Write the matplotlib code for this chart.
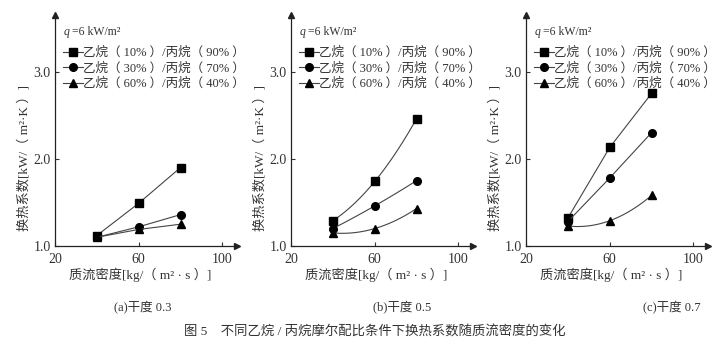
import numpy as np
import matplotlib
matplotlib.use('Agg')
import matplotlib.pyplot as plt

plt.rcParams['font.family'] = ['Liberation Serif', 'Noto Sans CJK SC']

# ── data ────────────────────────────────────────────────────────────────
mass_flux = [40, 60, 80]
series_labels = ['乙烷（ 10% ）/丙烷（ 90% ）',
                 '乙烷（ 30% ）/丙烷（ 70% ）',
                 '乙烷（ 60% ）/丙烷（ 40% ）']
markers = ['s', 'o', '^']

htc_a = [[1.12, 1.49, 1.90],
         [1.10, 1.22, 1.36],
         [1.10, 1.19, 1.25]]
htc_b = [[1.29, 1.74, 2.46],
         [1.20, 1.46, 1.75],
         [1.15, 1.20, 1.43]]
htc_c = [[1.32, 2.13, 2.75],
         [1.28, 1.78, 2.30],
         [1.23, 1.29, 1.58]]

panels = [('(a)干度 0.3', htc_a, [False, False, False]),
          ('(b)干度 0.5', htc_b, [True, True, True]),
          ('(c)干度 0.7', htc_c, [False, False, True])]

xticks = [20, 60, 100]
yticks = [1.0, 2.0, 3.0]

fig = plt.figure(figsize=(7.2, 3.45), dpi=100)
lefts = [55, 291, 526]
subs_x = [143, 402, 672]
txt_c = '#333333'

for left, sx, (sub, data, smooth) in zip(lefts, subs_x, panels):
    ax = fig.add_axes([left / 720, 1 - 246 / 345, 182 / 720, 231 / 345])
    x = np.array(mass_flux, dtype=float)
    for vals, mk, lab, sm in zip(data, markers, series_labels, smooth):
        if sm:
            coef = np.polyfit(x, vals, 2)
            xs = np.linspace(x[0], x[-1], 60)
            ax.plot(xs, np.polyval(coef, xs), color='#444444', lw=0.8)
        else:
            ax.plot(x, vals, color='#444444', lw=0.8)
        ax.plot(x, vals, linestyle='none', marker=mk, color='black', ms=5.5)
        ax.plot([], [], color='#444444', lw=0.8, marker=mk,
                markerfacecolor='black', markeredgecolor='black', ms=5.5, label=lab)

    ax.set_xlim(20, 107)
    ax.set_ylim(1.0, 3.65)
    ax.set_xticks(xticks)
    ax.set_yticks(yticks)
    ax.set_yticklabels([f'{v:.1f}' for v in yticks])
    ax.tick_params(direction='in', length=3, width=0.8, labelsize=10,
                   colors='#333333')
    ax.tick_params(axis='x', pad=5)
    ax.tick_params(axis='y', pad=3)
    for s in ['top', 'right']:
        ax.spines[s].set_visible(False)
    for s in ['left', 'bottom']:
        ax.spines[s].set_color('#222222')
        ax.spines[s].set_linewidth(0.9)
    ax.plot(1, 0, '>', color='#222222', ms=5, transform=ax.transAxes, clip_on=False)
    ax.plot(0, 1, '^', color='#222222', ms=5, transform=ax.transAxes, clip_on=False)

    ax.set_xlabel('质流密度[kg/（ m² · s ）]', fontsize=9.5, color=txt_c)
    ax.set_ylabel('换热系数[kW/（ m²·K ）]', fontsize=9.5, color=txt_c)
    ax.xaxis.set_label_coords(0.467, -0.095)
    ax.yaxis.set_label_coords(-0.135, 0.38)

    ax.text(0.05, 0.925, 'q', transform=ax.transAxes, fontsize=8.5,
            color=txt_c, va='center', style='italic')
    ax.text(0.095, 0.925, '=6 kW/m²', transform=ax.transAxes, fontsize=8.5,
            color=txt_c, va='center')
    ax.legend(loc='upper left', bbox_to_anchor=(0.0, 0.895), frameon=False,
              fontsize=9, handlelength=1.6, handletextpad=0.05,
              labelspacing=0.25, borderaxespad=0.2, labelcolor=txt_c)

    fig.text(sx / 720, 1 - 308 / 345, sub, ha='center', va='center',
             fontsize=9, color=txt_c)

fig.text(375 / 720, 1 - 332 / 345, '图 5　不同乙烷 / 丙烷摩尔配比条件下换热系数随质流密度的变化',
         ha='center', va='center', fontsize=9.6, color=txt_c)

fig.savefig('out.png', dpi=100)
